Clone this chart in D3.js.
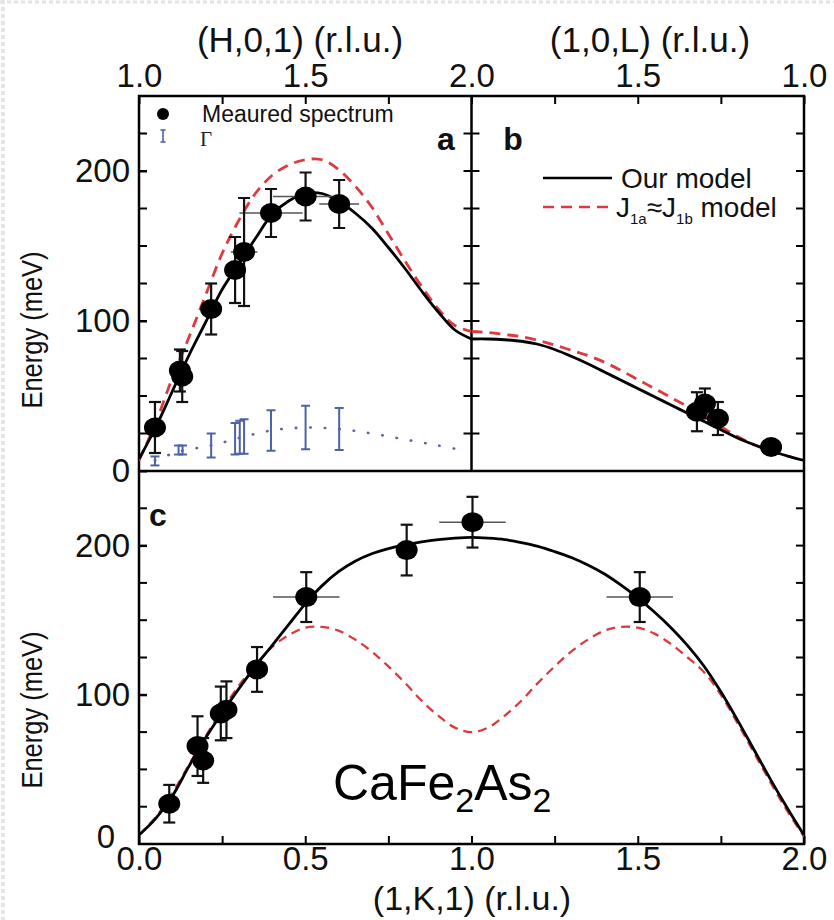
<!DOCTYPE html>
<html>
<head>
<meta charset="utf-8">
<script src="https://cdn.jsdelivr.net/npm/d3@7"></script>
<style>
  html, body { margin: 0; padding: 0; background: #fff; }
  svg { display: block; font-family: "Liberation Sans", Arial, Helvetica, sans-serif; }
</style>
</head>
<body>
<svg id="chart" width="834" height="920"></svg>
<script>
// ---------------- DATA ----------------
// Panel a : (H,0,1)
const aH     = [1.048, 1.123, 1.130, 1.217, 1.289, 1.316, 1.397, 1.501, 1.602];
const aE     = [29, 67, 63, 108, 134, 146, 172, 183, 178];
const aEerr  = [17, 14, 17, 17, 22, 36, 16, 16, 16];
const aHerr  = [0, 0, 0, 0, 0.02, 0.04, 0.095, 0.098, 0.06];
// Gamma (damping) in panel a
const gH     = [1.048, 1.119, 1.131, 1.217, 1.289, 1.303, 1.316, 1.397, 1.501, 1.602];
const gE     = [6.7, 14, 14, 17, 21.5, 22.5, 23, 27, 29, 28];
const gErr   = [3, 3, 3, 8, 10.5, 11, 11.5, 13.5, 14.5, 14];
const gLineH = [1.048, 1.12, 1.217, 1.30, 1.397, 1.50, 1.60, 1.70, 1.80, 1.90, 1.97];
const gLineE = [7, 13, 17, 22, 27, 29, 28, 25, 21, 17, 14];
// Model curves panel a
const modelAH   = [1.0, 1.05, 1.1, 1.15, 1.2, 1.25, 1.3, 1.35, 1.4, 1.45, 1.5, 1.55, 1.6, 1.65, 1.7, 1.75, 1.8, 1.85, 1.9, 1.95, 2.0];
const ourA      = [8, 29, 53, 77, 99, 121, 138, 155, 171, 180, 185, 185, 180, 172, 162, 149, 135, 120, 106, 94, 88];
const isoA      = [7, 32, 62, 89, 117, 145, 167, 185, 197, 204, 207.5, 207.5, 201, 190, 176, 158, 140, 123, 108, 97, 93];

// Panel b : (1,0,L)
const bL     = [1.322, 1.298, 1.259, 1.099];
const bE     = [39.5, 45, 35, 16];
const bEerr  = [13, 10, 11, 0];
const modelBL = [2.0, 1.95, 1.9, 1.85, 1.8, 1.75, 1.7, 1.65, 1.6, 1.55, 1.5, 1.45, 1.4, 1.35, 1.3, 1.25, 1.2, 1.15, 1.1, 1.05, 1.0];
const ourB    = [88, 88, 87.5, 86.5, 84.5, 81, 76.5, 71.5, 66, 60.5, 55, 49.5, 44, 38.5, 33, 27.5, 22, 17.5, 13.5, 10, 7];
const isoB    = [93, 92.3, 91, 89.5, 87, 84, 80.5, 77, 72.5, 67, 61, 55, 49, 43, 37, 29.5, 23, 17.5, 13.5, 10, 7];

// Panel c : (1,K,1)
const cK     = [0.091, 0.176, 0.193, 0.246, 0.263, 0.355, 0.503, 0.805, 1.003, 1.506];
const cE     = [27, 65.6, 56, 87.5, 90, 117, 165.5, 197, 215.7, 165.5];
const cEerr  = [12.6, 20, 15, 18, 19, 15, 16.7, 17, 17, 16.7];
const cKerr  = [0, 0, 0, 0, 0, 0, 0.1, 0, 0.1, 0.1];
const modelCK = [0, 0.05, 0.1, 0.15, 0.2, 0.25, 0.3, 0.35, 0.4, 0.45, 0.5, 0.55, 0.6, 0.65, 0.7, 0.75, 0.8, 0.85, 0.9, 0.95, 1.0,
                 1.05, 1.1, 1.15, 1.2, 1.25, 1.3, 1.35, 1.4, 1.45, 1.5, 1.55, 1.6, 1.65, 1.7, 1.75, 1.8, 1.85, 1.9, 1.95, 2.0];
const ourC = [6, 17, 32, 52, 71, 88, 104, 119, 133, 147, 161, 173, 182.5, 189.5, 194.5, 198, 200.5, 202.5, 204, 205, 205.5,
              205, 204, 202, 199.5, 196, 192, 187, 181, 173.5, 165, 155.5, 145, 133, 119, 102, 83, 63, 43, 24, 6];
const isoC = [6, 18, 34, 53, 72, 90, 106, 120, 132, 140, 145, 145.5, 143, 137, 129, 119, 108, 96, 86, 78, 75,
              78, 86, 96, 108, 119, 129, 137, 143, 145.5, 145, 141, 134, 125, 115, 100, 81, 61, 41, 22, 5];

// Tick labels
const topTicksA = [1.0, 1.5, 2.0];
const topTicksB = [1.5, 1.0];
const minorTicks01 = [1.25, 1.75];
const botTicks  = [0.0, 0.5, 1.0, 1.5, 2.0];
const yTicks    = [0, 100, 200];

// ---------------- LAYOUT ----------------
const L = 139, R = 804, MID = 471.5, T = 96, YM = 471, B = 844;
const svg = d3.select("#chart");
const BLUE = "#4e63a6", RED = "#dc3a3f";

const xA = d3.scaleLinear().domain([1, 2]).range([L, MID]);
const xB = d3.scaleLinear().domain([2, 1]).range([MID, R]);
const yT = d3.scaleLinear().domain([0, 250]).range([YM, T]);
const xC = d3.scaleLinear().domain([0, 2]).range([L, R]);
const yC = d3.scaleLinear().domain([0, 250]).range([B, YM]);

// faint slide border
svg.append("line").attr("x1", 0).attr("x2", 834).attr("y1", 2).attr("y2", 2)
  .attr("stroke", "#e4e4e4").attr("stroke-width", 3).attr("stroke-dasharray", "4 3");
svg.append("line").attr("x1", 3).attr("x2", 3).attr("y1", 0).attr("y2", 920)
  .attr("stroke", "#e4e4e4").attr("stroke-width", 4).attr("stroke-dasharray", "4 3");

const fmt = d3.format(".1f");
const TICKFS = 33;
function styleAxis(g, fs) {
  g.select(".domain").remove();
  g.selectAll(".tick line").attr("stroke", "#000").attr("stroke-width", 2);
  g.selectAll(".tick text").attr("fill", "#111").attr("font-size", fs)
    .attr("font-family", "\"Liberation Sans\", Arial, sans-serif");
}

// Top axis a
svg.append("g").attr("transform", `translate(0,${T})`)
  .call(d3.axisTop(xA).tickValues(topTicksA).tickFormat(fmt).tickSizeInner(-8).tickSizeOuter(0).tickPadding(9))
  .call(g => styleAxis(g, TICKFS));
svg.append("g").attr("transform", `translate(0,${T})`)
  .call(d3.axisTop(xA).tickValues(minorTicks01).tickFormat("").tickSizeInner(-8).tickSizeOuter(0))
  .call(g => styleAxis(g, TICKFS));
// Top axis b
svg.append("g").attr("transform", `translate(0,${T})`)
  .call(d3.axisTop(xB).tickValues(topTicksB).tickFormat(fmt).tickSizeInner(-8).tickSizeOuter(0).tickPadding(9))
  .call(g => styleAxis(g, TICKFS));
svg.append("g").attr("transform", `translate(0,${T})`)
  .call(d3.axisTop(xB).tickValues(minorTicks01).tickFormat("").tickSizeInner(-8).tickSizeOuter(0))
  .call(g => styleAxis(g, TICKFS));

// Bottom axis c
svg.append("g").attr("transform", `translate(0,${B})`)
  .call(d3.axisBottom(xC).tickValues(botTicks).tickFormat(fmt).tickSizeInner(-8).tickSizeOuter(0).tickPadding(3))
  .call(g => styleAxis(g, TICKFS));
svg.append("g").attr("transform", `translate(0,${B})`)
  .call(d3.axisBottom(xC).tickValues(d3.range(0.25, 2, 0.5)).tickFormat("").tickSizeInner(-8).tickSizeOuter(0))
  .call(g => styleAxis(g, TICKFS));

// Left axes
svg.append("g").attr("transform", `translate(${L},0)`)
  .call(d3.axisLeft(yT).tickValues(yTicks).tickSizeInner(-8).tickSizeOuter(0).tickPadding(9))
  .call(g => styleAxis(g, TICKFS));
svg.append("g").attr("transform", `translate(${L},0)`)
  .call(d3.axisLeft(yC).tickValues(yTicks.filter(v => v > 0)).tickSizeInner(-8).tickSizeOuter(0).tickPadding(9))
  .call(g => styleAxis(g, TICKFS));
// the "0" of the lower panel, placed just left of the "0.0" label
svg.append("text").attr("x", L - 24).attr("y", B + 4).attr("text-anchor", "end")
  .attr("font-size", TICKFS).attr("fill", "#111").text("0");

// Minor y ticks (25 meV) on divider and right side
const yMinor = d3.range(25, 250, 25);
function yTickMarks(x, scale, dir) {
  svg.append("g").selectAll("line").data(yMinor).join("line")
    .attr("x1", x).attr("x2", x + dir * 8)
    .attr("y1", d => scale(d)).attr("y2", d => scale(d))
    .attr("stroke", "#000").attr("stroke-width", 2);
}
yTickMarks(MID, yT, -1);
yTickMarks(MID, yT, 1);
yTickMarks(R, yT, -1);
yTickMarks(R, yC, -1);
yTickMarks(L, yT, 1);
yTickMarks(L, yC, 1);

// Frames
svg.append("rect").attr("x", L).attr("y", T).attr("width", R - L).attr("height", B - T)
  .attr("fill", "none").attr("stroke", "#000").attr("stroke-width", 2.5);
svg.append("line").attr("x1", L).attr("x2", R).attr("y1", YM).attr("y2", YM)
  .attr("stroke", "#000").attr("stroke-width", 2.5);
svg.append("line").attr("x1", MID).attr("x2", MID).attr("y1", T).attr("y2", YM)
  .attr("stroke", "#000").attr("stroke-width", 2.5);

// Axis titles
svg.append("text").attr("x", 300).attr("y", 52).attr("text-anchor", "middle")
  .attr("font-size", 35).attr("fill", "#111").text("(H,0,1) (r.l.u.)");
svg.append("text").attr("x", 650).attr("y", 52).attr("text-anchor", "middle")
  .attr("font-size", 35).attr("fill", "#111").text("(1,0,L) (r.l.u.)");
svg.append("text").attr("x", 472).attr("y", 910).attr("text-anchor", "middle")
  .attr("font-size", 34).attr("fill", "#111").text("(1,K,1) (r.l.u.)");
function yTitle(cy) {
  svg.append("text").attr("transform", `translate(42,${cy}) rotate(-90) scale(0.85,1)`)
    .attr("text-anchor", "middle").attr("font-size", 30).attr("fill", "#111").text("Energy (meV)");
}
yTitle(330);
yTitle(710);

// Clip paths
const defs = svg.append("defs");
defs.append("clipPath").attr("id", "clipA").append("rect").attr("x", L).attr("y", T).attr("width", MID - L).attr("height", YM - T);
defs.append("clipPath").attr("id", "clipB").append("rect").attr("x", MID).attr("y", T).attr("width", R - MID).attr("height", YM - T);
defs.append("clipPath").attr("id", "clipC").append("rect").attr("x", L).attr("y", YM).attr("width", R - L).attr("height", B - YM);

function drawLine(xs, ys, xScale, yScale, clip, color, dash, width, round) {
  const line = d3.line().x(d => xScale(d[0])).y(d => yScale(d[1])).curve(d3.curveCatmullRom.alpha(0.5));
  svg.append("path").attr("clip-path", `url(#${clip})`)
    .attr("d", line(d3.zip(xs, ys)))
    .attr("fill", "none").attr("stroke", color).attr("stroke-width", width)
    .attr("stroke-dasharray", dash || null).attr("stroke-linecap", round ? "round" : "butt");
}

function drawPoints(xs, ys, errs, xerrs, xScale, yScale, clip) {
  const g = svg.append("g").attr("clip-path", `url(#${clip})`);
  const data = xs.map((x, i) => ({ x, y: ys[i], e: errs[i], xe: xerrs ? xerrs[i] : 0 }));
  g.selectAll(".hx").data(data.filter(d => d.xe > 0)).join("line")
    .attr("x1", d => xScale(d.x - d.xe)).attr("x2", d => xScale(d.x + d.xe))
    .attr("y1", d => yScale(d.y)).attr("y2", d => yScale(d.y))
    .attr("stroke", "#555").attr("stroke-width", 1.6);
  const ve = data.filter(d => d.e > 0);
  g.selectAll(".vx").data(ve).join("line")
    .attr("x1", d => xScale(d.x)).attr("x2", d => xScale(d.x))
    .attr("y1", d => yScale(d.y - d.e)).attr("y2", d => yScale(d.y + d.e))
    .attr("stroke", "#111").attr("stroke-width", 2.2);
  ["top", "bot"].forEach(k => {
    g.selectAll(".cap" + k).data(ve).join("line")
      .attr("x1", d => xScale(d.x) - 6).attr("x2", d => xScale(d.x) + 6)
      .attr("y1", d => yScale(k === "top" ? d.y + d.e : d.y - d.e))
      .attr("y2", d => yScale(k === "top" ? d.y + d.e : d.y - d.e))
      .attr("stroke", "#111").attr("stroke-width", 2.2);
  });
  g.selectAll("ellipse").data(data).join("ellipse")
    .attr("cx", d => xScale(d.x)).attr("cy", d => yScale(d.y))
    .attr("rx", 11).attr("ry", 10).attr("fill", "#000");
}

// ---- Panel a ----
drawLine(gLineH, gLineE, xA, yT, "clipA", "#5a6a9c", "0.5 14", 2.6, true);
{
  const g = svg.append("g");
  const gd = gH.map((h, i) => ({ x: h, y: gE[i], e: gErr[i] }));
  g.selectAll(".gv").data(gd).join("line")
    .attr("x1", d => xA(d.x)).attr("x2", d => xA(d.x))
    .attr("y1", d => yT(d.y - d.e)).attr("y2", d => yT(d.y + d.e))
    .attr("stroke", BLUE).attr("stroke-width", 2);
  ["t", "b"].forEach(k => {
    g.selectAll(".gc" + k).data(gd).join("line")
      .attr("x1", d => xA(d.x) - 4.5).attr("x2", d => xA(d.x) + 4.5)
      .attr("y1", d => yT(k === "t" ? d.y + d.e : d.y - d.e))
      .attr("y2", d => yT(k === "t" ? d.y + d.e : d.y - d.e))
      .attr("stroke", BLUE).attr("stroke-width", 2);
  });
}
drawLine(modelAH, isoA, xA, yT, "clipA", RED, "11 7", 2.8);
drawLine(modelAH, ourA, xA, yT, "clipA", "#000", null, 2.8);
drawPoints(aH, aE, aEerr, aHerr, xA, yT, "clipA");

// ---- Panel b ----
drawLine(modelBL, isoB, xB, yT, "clipB", RED, "11 7", 2.8);
drawLine(modelBL, ourB, xB, yT, "clipB", "#000", null, 2.8);
drawPoints(bL, bE, bEerr, null, xB, yT, "clipB");

// ---- Panel c ----
drawLine(modelCK, isoC, xC, yC, "clipC", RED, "9 6", 2.3);
drawLine(modelCK, ourC, xC, yC, "clipC", "#000", null, 2.8);
drawPoints(cK, cE, cEerr, cKerr, xC, yC, "clipC");

// ---- Legends ----
svg.append("circle").attr("cx", 163).attr("cy", 114).attr("r", 6).attr("fill", "#000");
svg.append("text").attr("x", 202).attr("y", 122).attr("font-size", 23).attr("fill", "#111").text("Meaured spectrum");
svg.append("line").attr("x1", 163).attr("x2", 163).attr("y1", 130).attr("y2", 142).attr("stroke", BLUE).attr("stroke-width", 1.6);
svg.append("line").attr("x1", 160.5).attr("x2", 165.5).attr("y1", 130).attr("y2", 130).attr("stroke", BLUE).attr("stroke-width", 1.6);
svg.append("line").attr("x1", 160.5).attr("x2", 165.5).attr("y1", 142).attr("y2", 142).attr("stroke", BLUE).attr("stroke-width", 1.6);
svg.append("text").attr("x", 200).attr("y", 146).attr("font-size", 21)
  .attr("font-family", "\"Liberation Serif\", \"Times New Roman\", serif").attr("fill", "#222").text("Γ");

svg.append("line").attr("x1", 543).attr("x2", 612).attr("y1", 178).attr("y2", 178).attr("stroke", "#000").attr("stroke-width", 2.6);
svg.append("text").attr("x", 621).attr("y", 188).attr("font-size", 28).attr("fill", "#111").text("Our model");
svg.append("line").attr("x1", 543).attr("x2", 612).attr("y1", 207).attr("y2", 207).attr("stroke", RED).attr("stroke-width", 2.6).attr("stroke-dasharray", "11 7");
{
  const t = svg.append("text").attr("x", 616).attr("y", 217).attr("font-size", 28).attr("fill", "#111");
  t.append("tspan").text("J");
  t.append("tspan").attr("font-size", 15).attr("dy", 7).text("1a");
  t.append("tspan").attr("dy", -7).text("≈J");
  t.append("tspan").attr("font-size", 15).attr("dy", 7).text("1b");
  t.append("tspan").attr("dy", -7).text(" model");
}

// Panel letters
svg.append("text").attr("x", 446).attr("y", 150).attr("text-anchor", "middle").attr("font-size", 32).attr("font-weight", "bold").attr("fill", "#111").text("a");
svg.append("text").attr("x", 513).attr("y", 150).attr("text-anchor", "middle").attr("font-size", 32).attr("font-weight", "bold").attr("fill", "#111").text("b");
svg.append("text").attr("x", 158).attr("y", 526).attr("text-anchor", "middle").attr("font-size", 32).attr("font-weight", "bold").attr("fill", "#111").text("c");

// Compound label
{
  const t = svg.append("text").attr("x", 333).attr("y", 800).attr("font-size", 50).attr("fill", "#000");
  t.append("tspan").text("CaFe");
  t.append("tspan").attr("font-size", 34).attr("dy", 12).text("2");
  t.append("tspan").attr("dy", -12).text("As");
  t.append("tspan").attr("font-size", 34).attr("dy", 12).text("2");
}
</script>
</body>
</html>
